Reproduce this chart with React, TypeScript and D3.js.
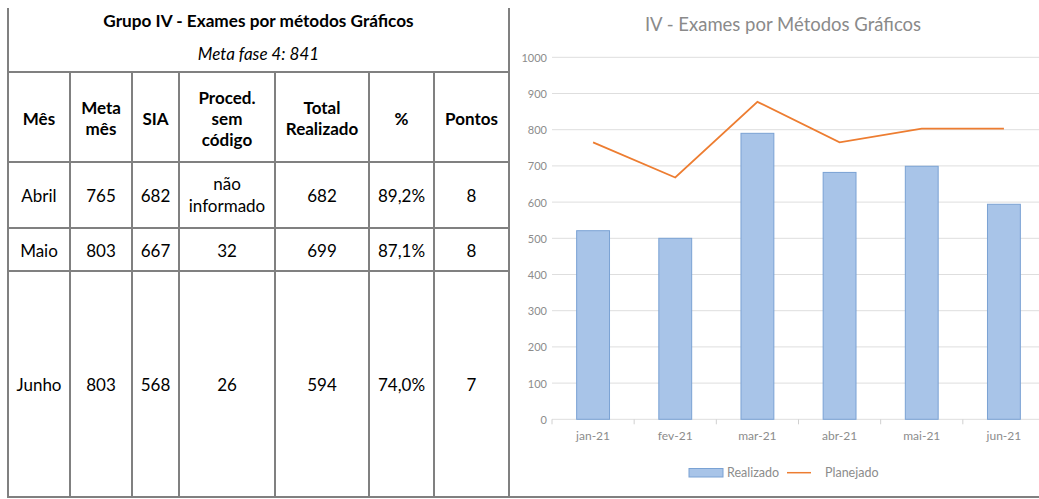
import React from "react";
import * as d3 from "d3";

// ---- Table data ----
const tableTitle = "Grupo IV - Exames por métodos Gráficos";
const tableSubtitle = "Meta fase 4: 841";
const headers = [["Mês"], ["Meta", "mês"], ["SIA"], ["Proced.", "sem", "código"], ["Total", "Realizado"], ["%"], ["Pontos"]];
const tableMonths = ["Abril", "Maio", "Junho"];
const metaMes = ["765", "803", "803"];
const sia = ["682", "667", "568"];
const procedSemCodigo = [["não", "informado"], ["32"], ["26"]];
const totalRealizado = ["682", "699", "594"];
const percent = ["89,2%", "87,1%", "74,0%"];
const pontos = ["8", "8", "7"];

// ---- Chart data ----
const chartTitle = "IV - Exames por Métodos Gráficos";
const chartMonths = ["jan-21", "fev-21", "mar-21", "abr-21", "mai-21", "jun-21"];
const realizado = [521, 500, 790, 682, 699, 594];
const planejado = [765, 668, 877, 765, 803, 803];
const yTicks = [0, 100, 200, 300, 400, 500, 600, 700, 800, 900, 1000];

const W = 1039;
const H = 499;
const FONT = "Lato, 'Open Sans', sans-serif";
const LINE = "#808080";

const colX = [8, 70, 132, 179, 275, 369, 434, 509];
const rowY = [8, 72, 162, 228, 271, 497];

function MultiText({ x, cy, lines, lh, ...rest }: any) {
  const n = lines.length;
  return (
    <text x={x} textAnchor="middle" dominantBaseline="central" {...rest}>
      {lines.map((l: string, i: number) => (
        <tspan key={i} x={x} y={cy + (i - (n - 1) / 2) * lh}>
          {l}
        </tspan>
      ))}
    </text>
  );
}

export default function App() {
  const x = d3
    .scaleBand<string>()
    .domain(chartMonths)
    .range([552, 1045])
    .paddingInner(0.6)
    .paddingOuter(0.3);
  const step = x.step();
  const y = d3.scaleLinear().domain([0, 1000]).range([419.3, 57.3]);
  const line = d3
    .line<number>()
    .x((_, i) => (x(chartMonths[i]) as number) + x.bandwidth() / 2)
    .y((d) => y(d));

  const rowsData = tableMonths.map((m, i) => [
    [m],
    [metaMes[i]],
    [sia[i]],
    procedSemCodigo[i],
    [totalRealizado[i]],
    [percent[i]],
    [pontos[i]],
  ]);

  return (
    <div style={{ position: "absolute", left: 0, top: 0 }}>
      <svg width={W} height={H} style={{ display: "block", background: "#fff" }} fontFamily={FONT}>
        <rect x={0} y={0} width={W} height={H} fill="#fff" />
        {/* ---- Table ---- */}
        <text x={(colX[0] + colX[7]) / 2} y={20} textAnchor="middle" dominantBaseline="central" fontSize={17.2} fontWeight={700} fill="#000">
          {tableTitle}
        </text>
        <text x={(colX[0] + colX[7]) / 2} y={53} textAnchor="middle" dominantBaseline="central" fontSize={17} fontStyle="italic" fill="#000">
          {tableSubtitle}
        </text>
        {headers.map((h, c) => (
          <MultiText key={"h" + c} x={(colX[c] + colX[c + 1]) / 2} cy={117.5} lines={h} lh={21} fontSize={17} fontWeight={700} fill="#000" />
        ))}
        {rowsData.map((row, r) =>
          row.map((cell, c) => (
            <MultiText
              key={"c" + r + "-" + c}
              x={(colX[c] + colX[c + 1]) / 2}
              cy={(rowY[r + 2] + rowY[r + 3]) / 2 - (cell.length > 1 ? 1 : 0)}
              lines={cell}
              lh={22}
              fontSize={17}
              fill="#000"
            />
          ))
        )}
        {/* grid lines of table */}
        <g stroke={LINE} strokeWidth={2}>
          <line x1={colX[0]} x2={colX[0]} y1={rowY[0]} y2={rowY[5] + 1} />
          <line x1={colX[7]} x2={colX[7]} y1={rowY[0]} y2={rowY[5] + 1} />
          {colX.slice(1, 7).map((cx, i) => (
            <line key={"v" + i} x1={cx} x2={cx} y1={rowY[1]} y2={rowY[5]} />
          ))}
          {rowY.slice(1, 5).map((ry, i) => (
            <line key={"r" + i} x1={colX[0]} x2={colX[7]} y1={ry} y2={ry} />
          ))}
          <line x1={colX[0] - 1} x2={W} y1={rowY[5]} y2={rowY[5]} />
        </g>

        {/* ---- Chart ---- */}
        <text x={783} y={24} textAnchor="middle" dominantBaseline="central" fontSize={18.5} fill="#8a8a8a">
          {chartTitle}
        </text>
        {yTicks.map((t) => (
          <g key={"y" + t}>
            <line x1={552} x2={1045} y1={y(t)} y2={y(t)} stroke="#dedede" strokeWidth={1} />
            <text x={547} y={y(t)} textAnchor="end" dominantBaseline="central" fontSize={11} fill="#8c8c8c">
              {t}
            </text>
          </g>
        ))}
        {/* baseline ticks */}
        {chartMonths.map((m, i) => (
          <line key={"t" + i} x1={552 + i * step} x2={552 + i * step} y1={y(0)} y2={y(0) + 5} stroke="#d0d0d0" strokeWidth={1} />
        ))}
        {chartMonths.map((m, i) => (
          <rect
            key={"b" + m}
            x={x(m)}
            y={y(realizado[i])}
            width={x.bandwidth()}
            height={y(0) - y(realizado[i])}
            fill="#a8c4e8"
            stroke="#7aa2d4"
            strokeWidth={1}
          />
        ))}
        <path d={line(planejado) || ""} fill="none" stroke="#ed7d31" strokeWidth={1.8} />
        {chartMonths.map((m) => (
          <text key={"x" + m} x={(x(m) as number) + x.bandwidth() / 2} y={435} textAnchor="middle" dominantBaseline="central" fontSize={12} fill="#8c8c8c">
            {m}
          </text>
        ))}
        {/* legend */}
        <rect x={689} y={468.5} width={34} height={8.5} fill="#a8c4e8" stroke="#7aa2d4" strokeWidth={1} />
        <text x={727} y={472.5} dominantBaseline="central" fontSize={12.5} fill="#8c8c8c">
          Realizado
        </text>
        <line x1={787} x2={811} y1={472.7} y2={472.7} stroke="#ed7d31" strokeWidth={1.5} />
        <text x={825} y={472.5} dominantBaseline="central" fontSize={12.5} fill="#8c8c8c">
          Planejado
        </text>
      </svg>
    </div>
  );
}
